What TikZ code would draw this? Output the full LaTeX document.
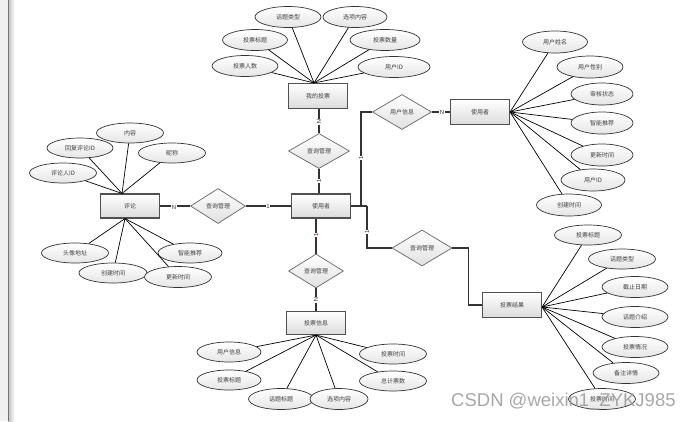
\documentclass[tikz,border=0pt]{standalone}
\usepackage{fontspec}
\newfontfamily\cjk{Noto Sans CJK SC}
\newfontfamily\wmfont{Liberation Sans}
\usetikzlibrary{shapes.geometric}
\definecolor{txt}{HTML}{404040}
\definecolor{bord}{HTML}{505050}
\tikzset{
  base/.style={font=\cjk\fontsize{6}{7}\selectfont, text=txt, inner sep=0pt},
  entity/.style={base, rectangle, draw=bord, line width=1.1pt, top color=white, bottom color=black!14, minimum width=59pt, minimum height=24pt},
  attr/.style={base, ellipse, draw=black!80, line width=0.7pt, top color=white, bottom color=black!10, minimum width=66pt, minimum height=21pt},
  rel/.style={base, diamond, draw=black!60, line width=0.7pt, top color=white, bottom color=black!12, minimum width=60pt, minimum height=35pt},
  al/.style={line width=0.7pt, black},
  rl/.style={line width=1.1pt, black!80},
  card/.style={font=\wmfont\fontsize{6}{7}\selectfont, fill=white, inner sep=0.5pt, text=black!80}
}
\begin{document}
\begin{tikzpicture}[x=1pt,y=-1pt]
\useasboundingbox (0,0) rectangle (692,421);
\fill[white] (0,0) rectangle (692,421);
% left window strip
\fill[black!6] (0,0) rectangle (8,421);
\shade[left color=black!25, right color=white] (8,0) rectangle (15,421);
\draw[black!55, line width=0.8pt] (8,0) -- (8,421);

% ---------- top: 我的投票 ----------
\node[entity, minimum height=25pt] (wt) at (318,96) {我的投票};
\node[attr] (wa1) at (288,17) {话题类型};
\node[attr, minimum width=64pt] (wa2) at (355,17) {选项内容};
\node[attr, minimum width=65pt] (wa3) at (255,40) {投票标题};
\node[attr, minimum width=70pt] (wa4) at (385,40) {投票数量};
\node[attr] (wa5) at (245,66) {投票人数};
\node[attr, minimum width=72pt] (wa6) at (394,67) {用户ID};
\coordinate (wtc) at ([xshift=-4pt]wt.north);
\foreach \a in {wa1,wa2,wa3,wa4,wa5,wa6} \draw[al] (wtc) -- (\a);

% ---------- center ----------
\node[rel, minimum width=61pt] (d1) at (319,151) {查询管理};
\node[entity] (u) at (321,206) {使用者};
\draw[rl] (d1.north) -- (d1.north |- wt.south);
\draw[rl] (d1.south) -- (d1.south |- u.north);
\node[card, rotate=-90] (l1) at (319,122) {N};
\node[card, rotate=90] (l2) at (319,181) {1};

% ---------- left: 评论 ----------
\node[rel, minimum width=55pt] (d0) at (218,206) {查询管理};
\node[entity] (c) at (130,206) {评论};
\draw[rl] (c.east) -- (d0.west);
\draw[rl] (d0.east) -- (u.west);
\node[card] (l3) at (174,207) {N};
\node[card] (l4) at (268,206) {1};
\node[attr, minimum width=67pt, minimum height=20pt] (ca1) at (130,133) {内容};
\node[attr, minimum height=20pt] (ca2) at (80,148) {回复评论ID};
\node[attr, minimum width=67pt, minimum height=20pt] (ca3) at (172,153) {昵称};
\node[attr, minimum width=67pt, minimum height=20pt] (ca4) at (63,173) {评论人ID};
\coordinate (ctop) at ([xshift=-8pt]c.north);
\foreach \a in {ca1,ca2,ca3,ca4} \draw[al] (ctop) -- (\a);
\node[attr, minimum width=67pt, minimum height=20pt] (cb1) at (75,253) {头像地址};
\node[attr, minimum width=68pt, minimum height=20pt] (cb2) at (113,273) {创建时间};
\node[attr, minimum width=67pt, minimum height=21pt] (cb3) at (178,277) {更新时间};
\node[attr, minimum width=64pt, minimum height=20pt] (cb4) at (190,253) {智能推荐};
\coordinate (cbot) at ([xshift=-5pt]c.south);
\foreach \a in {cb1,cb2,cb3,cb4} \draw[al] (cbot) -- (\a);

% ---------- right top: 使用者 ----------
\coordinate (j1) at (361,206);
\coordinate (j2) at (367,206);
\node[rel, minimum width=59pt] (d2) at (402,112) {用户信息};
\node[entity, minimum height=25pt] (s) at (480,112) {使用者};
\draw[rl] (u.east) -- (j2);
\draw[rl] (j1) |- (d2.west);
\draw[rl] (d2.east) -- (s.west);
\node[card, rotate=90] (l5) at (361,158) {1};
\node[card] (l6) at (442,112) {N};
\node[attr, minimum width=65pt, minimum height=22pt] (sa1) at (555,42) {用户姓名};
\node[attr, minimum height=22pt] (sa2) at (590,67) {用户性别};
\node[attr, minimum width=62pt, minimum height=22pt] (sa3) at (602,94) {审核状态};
\node[attr, minimum width=62pt, minimum height=22pt] (sa4) at (602,123) {智能推荐};
\node[attr, minimum width=62pt, minimum height=22pt] (sa5) at (602,155) {更新时间};
\node[attr, minimum width=64pt, minimum height=22pt] (sa6) at (593,180) {用户ID};
\node[attr, minimum width=65pt, minimum height=22pt] (sa7) at (569,205) {创建时间};
\foreach \a in {sa1,sa2,sa3,sa4,sa5,sa6,sa7} \draw[al] (s.east) -- (\a);

% ---------- right bottom: 投票结果 ----------
\node[rel, minimum height=36pt] (d3) at (422,248) {查询管理};
\node[entity, minimum height=25pt] (r) at (512,305) {投票结果};
\draw[rl] (j2) |- (d3.west);
\draw[rl] (d3.east) -- ++(16,0) |- (r.west);
\node[card, rotate=90] (l7) at (367,232) {1};
\node[attr, minimum width=67pt, minimum height=20pt] (ra1) at (588,235) {投票标题};
\node[attr, minimum width=67pt, minimum height=20pt] (ra2) at (622,259) {话题类型};
\node[attr, minimum height=21pt] (ra3) at (635,287) {截止日期};
\node[attr, minimum height=21pt] (ra4) at (635,317) {话题介绍};
\node[attr, minimum height=21pt] (ra5) at (635,347) {投票情况};
\node[attr, minimum height=21pt] (ra6) at (626,373) {备注详情};
\node[attr, minimum width=67pt, minimum height=21pt] (ra7) at (602,399) {投票时间};
\coordinate (rc) at ([yshift=-2pt]r.east);
\foreach \a in {ra1,ra2,ra3,ra4,ra5,ra6,ra7} \draw[al] (rc) -- (\a);

% ---------- bottom: 投票信息 ----------
\node[rel, minimum width=55pt, minimum height=34pt] (d4) at (316,271) {查询管理};
\node[entity, minimum height=23pt] (v) at (316,323) {投票信息};
\draw[rl] (d4.north) -- (d4.north |- u.south);
\draw[rl] (d4.south) -- (v.north);
\node[card, rotate=90, text=red!60!black] (l8) at (316,235) {1};
\node[card, rotate=-90] (l9) at (316,300) {N};
\node[attr, minimum width=64pt, minimum height=20pt] (va1) at (229,352) {用户信息};
\node[attr, minimum width=64pt, minimum height=20pt] (va2) at (229,380) {投票标题};
\node[attr, minimum width=65pt, minimum height=21pt] (va3) at (281,399) {话题标题};
\node[attr, minimum width=58pt, minimum height=21pt] (va4) at (339,399) {选项内容};
\node[attr, minimum width=67pt, minimum height=20pt] (va5) at (393,354) {投票时间};
\node[attr, minimum width=67pt, minimum height=20pt] (va6) at (393,381) {总计票数};
\foreach \a in {va1,va2,va3,va4,va5,va6} \draw[al] (v.south) -- (\a);

% watermark
\node[font=\wmfont\fontsize{18.5}{20}\selectfont, text=black!40, opacity=0.85, anchor=west, inner sep=0pt] (wm) at (451,402) {CSDN @weixin1\_ZYKJ985};
\end{tikzpicture}
\end{document}
